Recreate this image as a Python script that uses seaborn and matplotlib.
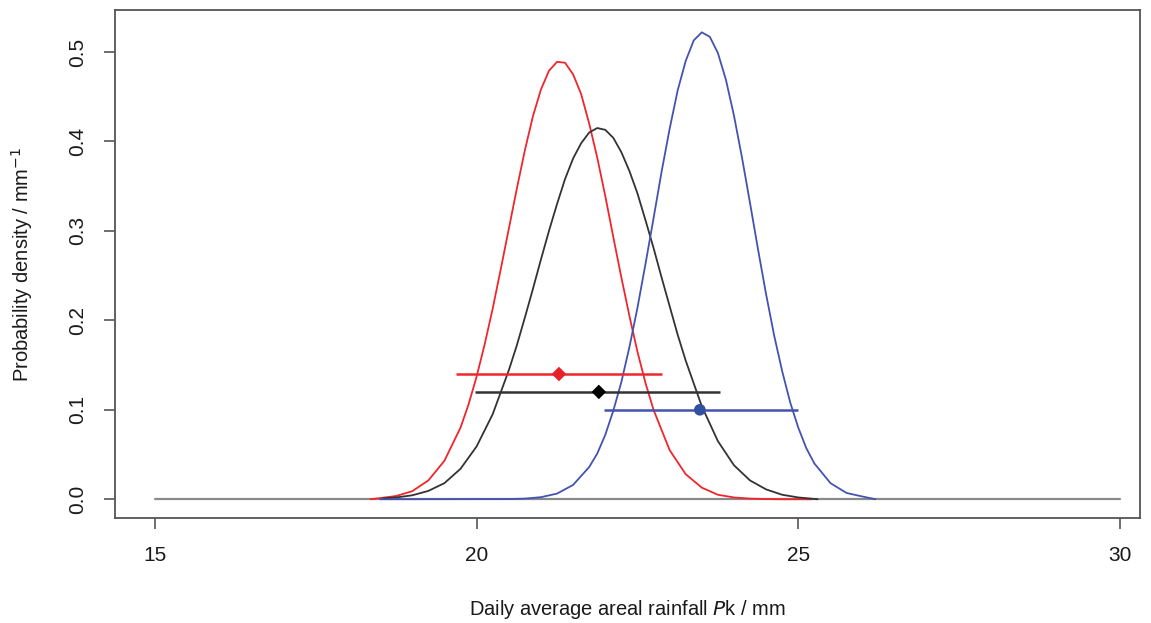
import pandas as pd
import matplotlib
matplotlib.use('Agg')
import matplotlib.pyplot as plt
import seaborn as sns

# Posterior densities
red_x = [18.35, 18.5, 18.75, 19.0, 19.25, 19.5, 19.75, 19.875, 20.0, 20.125, 20.25, 20.375,
         20.5, 20.625, 20.75, 20.875, 21.0, 21.125, 21.25, 21.375, 21.5, 21.625, 21.75, 21.875,
         22.0, 22.125, 22.25, 22.375, 22.5, 22.625, 22.75, 23.0, 23.25, 23.5, 23.75, 24.0,
         24.25, 24.5, 24.75, 25.0, 25.2]
red_y = [0.0, 0.0013, 0.0036, 0.009, 0.021, 0.043, 0.080, 0.106, 0.137, 0.173, 0.213, 0.257,
         0.302, 0.347, 0.390, 0.428, 0.458, 0.479, 0.489, 0.488, 0.475, 0.453, 0.420, 0.382,
         0.339, 0.293, 0.248, 0.205, 0.165, 0.130, 0.100, 0.055, 0.028, 0.013, 0.005, 0.002,
         0.0007, 0.0002, 0.0, 0.0, 0.0]

black_x = [18.55, 18.75, 19.0, 19.25, 19.5, 19.75, 20.0, 20.25, 20.5, 20.625, 20.75, 20.875,
           21.0, 21.125, 21.25, 21.375, 21.5, 21.625, 21.75, 21.875, 22.0, 22.125, 22.25, 22.375,
           22.5, 22.625, 22.75, 22.875, 23.0, 23.125, 23.25, 23.5, 23.75, 24.0, 24.25,
           24.5, 24.75, 25.0, 25.3]
black_y = [0.001, 0.002, 0.0044, 0.0093, 0.018, 0.034, 0.059, 0.095, 0.144, 0.172, 0.203, 0.235,
           0.268, 0.300, 0.330, 0.358, 0.381, 0.398, 0.410, 0.415, 0.413, 0.404, 0.388, 0.367,
           0.342, 0.312, 0.281, 0.248, 0.216, 0.184, 0.155, 0.104, 0.065, 0.038, 0.021,
           0.011, 0.005, 0.002, 0.0]

blue_x = [18.5, 20.5, 20.75, 21.0, 21.25, 21.5, 21.75, 21.875, 22.0, 22.125, 22.25, 22.375,
          22.5, 22.625, 22.75, 22.875, 23.0, 23.125, 23.25, 23.375, 23.5, 23.625, 23.75, 23.875,
          24.0, 24.125, 24.25, 24.375, 24.5, 24.625, 24.75, 24.875, 25.0, 25.125, 25.25,
          25.5, 25.75, 26.0, 26.2]
blue_y = [0.0, 0.0002, 0.0007, 0.0023, 0.0063, 0.016, 0.036, 0.051, 0.072, 0.099, 0.131, 0.170,
          0.214, 0.263, 0.314, 0.366, 0.414, 0.457, 0.490, 0.513, 0.522, 0.517, 0.499, 0.469,
          0.429, 0.382, 0.331, 0.279, 0.229, 0.183, 0.143, 0.108, 0.080, 0.057, 0.040,
          0.018, 0.007, 0.003, 0.0]

base_x = [15, 30]
base_y = [0, 0]

# Point estimates with intervals
est_names = ['red', 'black', 'blue']
est_mid = [21.28, 21.9, 23.47]
est_lo = [19.68, 19.98, 21.98]
est_hi = [22.88, 23.78, 25.0]
est_y = [0.14, 0.12, 0.10]

colours = {'red': '#f0262c', 'black': '#333333', 'blue': '#4452b0'}
markers = {'red': 'D', 'black': 'D', 'blue': 'o'}
mk_col = {'red': '#e8202a', 'black': '#000000', 'blue': '#3050a0'}

curves = pd.concat([
    pd.DataFrame({'x': red_x, 'y': red_y, 'grp': 'red'}),
    pd.DataFrame({'x': black_x, 'y': black_y, 'grp': 'black'}),
    pd.DataFrame({'x': blue_x, 'y': blue_y, 'grp': 'blue'}),
])
est = pd.DataFrame({'grp': est_names, 'mid': est_mid, 'lo': est_lo, 'hi': est_hi, 'y': est_y})

sns.set_style('ticks')
plt.rcParams['font.family'] = ['Liberation Sans', 'DejaVu Sans']

fig = plt.figure(figsize=(11.51, 6.23), dpi=100)
ax = fig.add_axes([0.0999, 0.1685, 0.8905, 0.8155])

ax.plot(base_x, base_y, color='#8a8a8a', lw=1.6, zorder=1)
sns.lineplot(data=curves, x='x', y='y', hue='grp', palette=colours, sort=False,
             estimator=None, lw=1.3, legend=False, ax=ax, zorder=2)

for _, r in est.iterrows():
    ax.hlines(r['y'], r['lo'], r['hi'], color=colours[r['grp']], lw=1.8, zorder=3)
    sns.scatterplot(x=[r['mid']], y=[r['y']], marker=markers[r['grp']], color=mk_col[r['grp']],
                    s=70 if r['grp'] == 'blue' else 55, edgecolor='none', ax=ax, zorder=4)

ax.set_xlim(14.38, 30.31)
ax.set_ylim(-0.021, 0.547)
ax.set_xticks([15, 20, 25, 30])
ax.set_yticks([0.0, 0.1, 0.2, 0.3, 0.4, 0.5])
ax.set_yticklabels(['0.0', '0.1', '0.2', '0.3', '0.4', '0.5'], rotation=90, va='center')

for s in ax.spines.values():
    s.set_visible(True)
    s.set_color('#555555')
    s.set_linewidth(1.3)
ax.tick_params(axis='both', direction='out', length=8, width=1.2, color='#555555',
               labelsize=15, labelcolor='#1a1a1a')
ax.tick_params(axis='x', pad=12)
ax.tick_params(axis='y', pad=12)

ax.set_xlabel('Daily average areal rainfall $\\mathit{P}$k / mm', fontsize=14.5, color='#1a1a1a', labelpad=24)
ax.set_ylabel('Probability density / mm$^{-1}$', fontsize=14.5, color='#1a1a1a', labelpad=24)

fig.savefig('out.png', dpi=100)
